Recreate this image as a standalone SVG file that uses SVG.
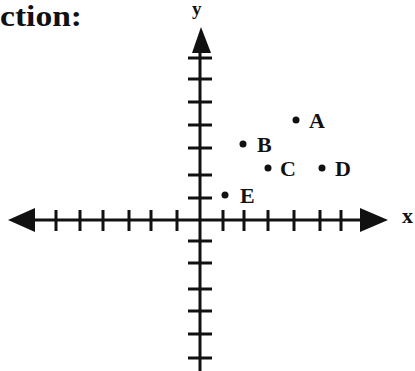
<svg xmlns="http://www.w3.org/2000/svg" width="415" height="371" viewBox="0 0 415 371">
<style>
.ax{stroke:#111;stroke-width:3;fill:none}
.tk{stroke:#111;stroke-width:3}
.ah{fill:#111}
.lb{font-family:"Liberation Serif",serif;font-weight:bold;font-size:22px;fill:#111}
.pt{fill:#111}
</style>
<rect width="415" height="371" fill="#fff"/>
<text x="0" y="26" style="font-family:'Liberation Serif',serif;font-weight:bold;font-size:29px;fill:#111" textLength="82" lengthAdjust="spacingAndGlyphs">ction:</text>
<g id="axes">
<line class="ax" x1="30" y1="220" x2="365" y2="220"/>
<line class="ax" x1="200" y1="48" x2="200" y2="371"/>
<polygon class="ah" points="8,220 35,208 35,232"/>
<polygon class="ah" points="388,220 360,208 360,232"/>
<polygon class="ah" points="201,27 192,53 211,53"/>
<g class="tk">
<line x1="56" y1="210" x2="56" y2="231"/>
<line x1="80" y1="210" x2="80" y2="231"/>
<line x1="103" y1="210" x2="103" y2="231"/>
<line x1="129" y1="210" x2="129" y2="231"/>
<line x1="151" y1="210" x2="151" y2="231"/>
<line x1="177" y1="210" x2="177" y2="231"/>
<line x1="223" y1="210" x2="223" y2="231"/>
<line x1="244" y1="210" x2="244" y2="231"/>
<line x1="268" y1="210" x2="268" y2="231"/>
<line x1="294" y1="210" x2="294" y2="231"/>
<line x1="320" y1="210" x2="320" y2="231"/>
<line x1="341" y1="210" x2="341" y2="231"/>
<line x1="188" y1="58" x2="212" y2="58"/>
<line x1="188" y1="79" x2="212" y2="79"/>
<line x1="188" y1="102" x2="212" y2="102"/>
<line x1="188" y1="125" x2="212" y2="125"/>
<line x1="188" y1="148" x2="212" y2="148"/>
<line x1="188" y1="175" x2="212" y2="175"/>
<line x1="188" y1="198" x2="212" y2="198"/>
<line x1="188" y1="241" x2="212" y2="241"/>
<line x1="188" y1="263" x2="212" y2="263"/>
<line x1="188" y1="289" x2="212" y2="289"/>
<line x1="188" y1="311" x2="212" y2="311"/>
<line x1="188" y1="334" x2="212" y2="334"/>
<line x1="188" y1="358" x2="212" y2="358"/>
</g>
<text class="lb" x="192" y="15" style="font-size:19px">y</text>
<text class="lb" x="402" y="223">x</text>
</g>
<g id="A"><circle class="pt" cx="296" cy="120" r="3.5"/><text class="lb" x="309" y="128">A</text></g>
<g id="B"><circle class="pt" cx="243" cy="144" r="3.5"/><text class="lb" x="257" y="152">B</text></g>
<g id="C"><circle class="pt" cx="268" cy="168" r="3.5"/><text class="lb" x="280" y="176">C</text></g>
<g id="D"><circle class="pt" cx="322" cy="168" r="3.5"/><text class="lb" x="335" y="176">D</text></g>
<g id="E"><circle class="pt" cx="225" cy="195" r="3.5"/><text class="lb" x="240" y="203">E</text></g>
</svg>
